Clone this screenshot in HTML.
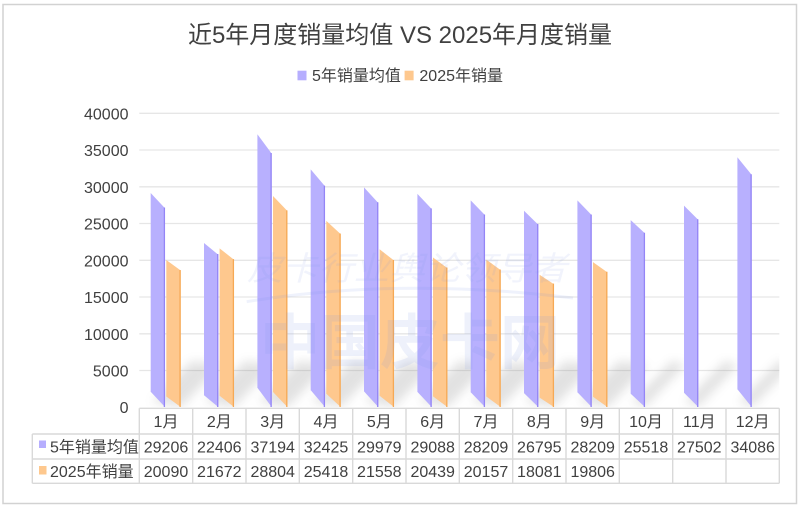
<!DOCTYPE html>
<html>
<head>
<meta charset="utf-8">
<style>
  html, body { margin:0; padding:0; background:#ffffff; }
  body { width:800px; height:510px; overflow:hidden; }
  svg { display:block; }
  text { font-family: "Liberation Sans", "Noto Sans CJK SC", sans-serif; }
</style>
</head>
<body>
<svg width="800" height="510" viewBox="0 0 800 510" xmlns="http://www.w3.org/2000/svg">
  <defs>
    <filter id="blur" x="-50%" y="-50%" width="200%" height="200%">
      <feGaussianBlur stdDeviation="5"/>
    </filter>
    <clipPath id="plot">
      <rect x="139.3" y="100" width="640" height="307"/>
    </clipPath>
  </defs>

  <!-- outer border -->
  <rect x="3" y="4.5" width="793.5" height="499" fill="#ffffff" stroke="#d2d2d2" stroke-width="1.5"/>

  <!-- title -->
  <text x="400" y="43" font-size="24" fill="#404040" text-anchor="middle">近5年月度销量均值 VS 2025年月度销量</text>

  <!-- legend -->
  <rect x="297.5" y="70.7" width="9" height="9.6" fill="#b6aefe"/>
  <text x="312" y="81" font-size="16" fill="#404040">5年销量均值</text>
  <rect x="404.6" y="70.7" width="9" height="9.6" fill="#fec88e"/>
  <text x="419.4" y="81" font-size="16" fill="#404040">2025年销量</text>

  <!-- gridlines -->
  <g stroke="#e6e6e6" stroke-width="1.3">
    <line x1="139.3" y1="113.3" x2="779.3" y2="113.3"/>
    <line x1="139.3" y1="150" x2="779.3" y2="150"/>
    <line x1="139.3" y1="186.8" x2="779.3" y2="186.8"/>
    <line x1="139.3" y1="223.5" x2="779.3" y2="223.5"/>
    <line x1="139.3" y1="260.3" x2="779.3" y2="260.3"/>
    <line x1="139.3" y1="297" x2="779.3" y2="297"/>
    <line x1="139.3" y1="333.8" x2="779.3" y2="333.8"/>
    <line x1="139.3" y1="370.5" x2="779.3" y2="370.5"/>
  </g>

  <!-- y labels -->
  <g font-size="16" fill="#404040" text-anchor="end">
    <text x="128.5" y="119.3">40000</text>
    <text x="128.5" y="156">35000</text>
    <text x="128.5" y="192.8">30000</text>
    <text x="128.5" y="229.5">25000</text>
    <text x="128.5" y="266.3">20000</text>
    <text x="128.5" y="303">15000</text>
    <text x="128.5" y="339.8">10000</text>
    <text x="128.5" y="376.5">5000</text>
    <text x="128.5" y="413">0</text>
  </g>

  <!-- shadows -->
  <g clip-path="url(#plot)">
    <g fill="#707070" opacity="0.2" filter="url(#blur)">
      <polygon points="152,402 181,407 221,365 192,361"/>
      <polygon points="205,402 234,407 274,365 245,361"/>
      <polygon points="259,402 288,407 328,365 299,361"/>
      <polygon points="312,402 341,407 381,365 352,361"/>
      <polygon points="365,402 394,407 434,365 405,361"/>
      <polygon points="419,402 448,407 488,365 459,361"/>
      <polygon points="472,402 501,407 541,365 512,361"/>
      <polygon points="525,402 554,407 594,365 565,361"/>
      <polygon points="579,402 608,407 648,365 619,361"/>
      <polygon points="632,402 645,407 685,365 672,361"/>
      <polygon points="685,402 698,407 738,365 725,361"/>
      <polygon points="739,402 752,407 792,365 779,361"/>
    </g>
  </g>

  <!-- purple bars -->
  <g fill="#b8b0fe">
    <polygon points="150.7,193 165,208.2 165,407 150.7,391.8"/>
    <polygon points="204,243 218.3,254.7 218.3,407 204,395.3"/>
    <polygon points="257.4,134.3 271.7,153.6 271.7,407 257.4,387.7"/>
    <polygon points="310.7,169.4 325,186.3 325,407 310.7,390.1"/>
    <polygon points="364,187.4 378.3,203 378.3,407 364,391.4"/>
    <polygon points="417.4,193.9 431.7,209 431.7,407 417.4,391.9"/>
    <polygon points="470.7,200.4 485,215.1 485,407 470.7,392.3"/>
    <polygon points="524,210.8 538.3,224.7 538.3,407 524,393.1"/>
    <polygon points="577.4,200.4 591.7,215.1 591.7,407 577.4,392.3"/>
    <polygon points="630.7,220.1 645,233.4 645,407 630.7,393.7"/>
    <polygon points="684,205.6 698.3,219.9 698.3,407 684,392.7"/>
    <polygon points="737.4,157.2 751.7,174.9 751.7,407 737.4,389.3"/>
  </g>
  <g stroke="#9485f6" stroke-width="1.3">
    <line x1="164.4" y1="207.5" x2="164.4" y2="407"/>
    <line x1="217.7" y1="254" x2="217.7" y2="407"/>
    <line x1="271.1" y1="153" x2="271.1" y2="407"/>
    <line x1="324.4" y1="185.6" x2="324.4" y2="407"/>
    <line x1="377.7" y1="202.3" x2="377.7" y2="407"/>
    <line x1="431.1" y1="208.4" x2="431.1" y2="407"/>
    <line x1="484.4" y1="214.5" x2="484.4" y2="407"/>
    <line x1="537.7" y1="224" x2="537.7" y2="407"/>
    <line x1="591.1" y1="214.5" x2="591.1" y2="407"/>
    <line x1="644.4" y1="232.8" x2="644.4" y2="407"/>
    <line x1="697.7" y1="219.2" x2="697.7" y2="407"/>
    <line x1="751.1" y1="174.2" x2="751.1" y2="407"/>
  </g>

  <!-- orange bars -->
  <g fill="#fec88e">
    <polygon points="166.3,260 180.7,270.5 180.7,407 166.3,396.5"/>
    <polygon points="219.6,248.4 234,259.7 234,407 219.6,395.7"/>
    <polygon points="273,196 287.4,211 287.4,407 273,392"/>
    <polygon points="326.3,220.9 340.7,234.1 340.7,407 326.3,393.8"/>
    <polygon points="379.6,249.3 394,260.5 394,407 379.6,395.8"/>
    <polygon points="433,257.5 447.4,268.1 447.4,407 433,396.4"/>
    <polygon points="486.3,259.6 500.7,270.1 500.7,407 486.3,396.5"/>
    <polygon points="539.6,274.8 554,284.2 554,407 539.6,397.6"/>
    <polygon points="593,262.1 607.4,272.4 607.4,407 593,396.7"/>
  </g>
  <g stroke="#f6a955" stroke-width="1.3">
    <line x1="180.1" y1="270" x2="180.1" y2="407"/>
    <line x1="233.4" y1="259.1" x2="233.4" y2="407"/>
    <line x1="286.8" y1="210.4" x2="286.8" y2="407"/>
    <line x1="340.1" y1="233.5" x2="340.1" y2="407"/>
    <line x1="393.4" y1="260" x2="393.4" y2="407"/>
    <line x1="446.8" y1="267.5" x2="446.8" y2="407"/>
    <line x1="500.1" y1="269.5" x2="500.1" y2="407"/>
    <line x1="553.4" y1="283.6" x2="553.4" y2="407"/>
    <line x1="606.8" y1="271.8" x2="606.8" y2="407"/>
  </g>

  <!-- watermark -->
  <g fill="#7c96e6">
    <text x="247" y="280" font-size="33" font-style="italic" opacity="0.1" textLength="320" lengthAdjust="spacingAndGlyphs">皮卡行业舆论领导者</text>
    <text x="260" y="364" font-size="60" font-weight="bold" opacity="0.12" textLength="300" lengthAdjust="spacingAndGlyphs">中国皮卡网</text>
  </g>
  <path d="M246.7,301.7 Q400,276.7 573,298" fill="none" stroke="#7c96e6" stroke-width="3" opacity="0.12"/>

  <!-- data table -->
  <g stroke="#d9d9d9" stroke-width="1.4" fill="none">
    <line x1="139.3" y1="408.3" x2="779.3" y2="408.3"/>
    <line x1="32.3" y1="434" x2="779.3" y2="434"/>
    <line x1="32.3" y1="459" x2="779.3" y2="459"/>
    <line x1="32.3" y1="483.3" x2="779.3" y2="483.3"/>
    <line x1="32.3" y1="434" x2="32.3" y2="483.3"/>
    <line x1="139.3" y1="408.3" x2="139.3" y2="483.3"/>
    <line x1="192.7" y1="408.3" x2="192.7" y2="483.3"/>
    <line x1="246" y1="408.3" x2="246" y2="483.3"/>
    <line x1="299.3" y1="408.3" x2="299.3" y2="483.3"/>
    <line x1="352.7" y1="408.3" x2="352.7" y2="483.3"/>
    <line x1="406" y1="408.3" x2="406" y2="483.3"/>
    <line x1="459.3" y1="408.3" x2="459.3" y2="483.3"/>
    <line x1="512.7" y1="408.3" x2="512.7" y2="483.3"/>
    <line x1="566" y1="408.3" x2="566" y2="483.3"/>
    <line x1="619.3" y1="408.3" x2="619.3" y2="483.3"/>
    <line x1="672.7" y1="408.3" x2="672.7" y2="483.3"/>
    <line x1="726" y1="408.3" x2="726" y2="483.3"/>
    <line x1="779.3" y1="408.3" x2="779.3" y2="483.3"/>
  </g>

  <g font-size="16" fill="#404040" text-anchor="middle">
    <text x="166" y="427">1月</text>
    <text x="219.3" y="427">2月</text>
    <text x="272.7" y="427">3月</text>
    <text x="326" y="427">4月</text>
    <text x="379.3" y="427">5月</text>
    <text x="432.7" y="427">6月</text>
    <text x="486" y="427">7月</text>
    <text x="539.3" y="427">8月</text>
    <text x="592.7" y="427">9月</text>
    <text x="646" y="427">10月</text>
    <text x="699.3" y="427">11月</text>
    <text x="752.7" y="427">12月</text>

    <text x="166" y="452.5">29206</text>
    <text x="219.3" y="452.5">22406</text>
    <text x="272.7" y="452.5">37194</text>
    <text x="326" y="452.5">32425</text>
    <text x="379.3" y="452.5">29979</text>
    <text x="432.7" y="452.5">29088</text>
    <text x="486" y="452.5">28209</text>
    <text x="539.3" y="452.5">26795</text>
    <text x="592.7" y="452.5">28209</text>
    <text x="646" y="452.5">25518</text>
    <text x="699.3" y="452.5">27502</text>
    <text x="752.7" y="452.5">34086</text>

    <text x="166" y="477">20090</text>
    <text x="219.3" y="477">21672</text>
    <text x="272.7" y="477">28804</text>
    <text x="326" y="477">25418</text>
    <text x="379.3" y="477">21558</text>
    <text x="432.7" y="477">20439</text>
    <text x="486" y="477">20157</text>
    <text x="539.3" y="477">18081</text>
    <text x="592.7" y="477">19806</text>
  </g>

  <rect x="39" y="440.5" width="7" height="7.5" fill="#b6aefe"/>
  <text x="50" y="452.5" font-size="16" fill="#404040">5年销量均值</text>
  <rect x="39" y="466" width="7.5" height="8.5" fill="#fec88e"/>
  <text x="50" y="477" font-size="16" fill="#404040">2025年销量</text>
</svg>
</body>
</html>
